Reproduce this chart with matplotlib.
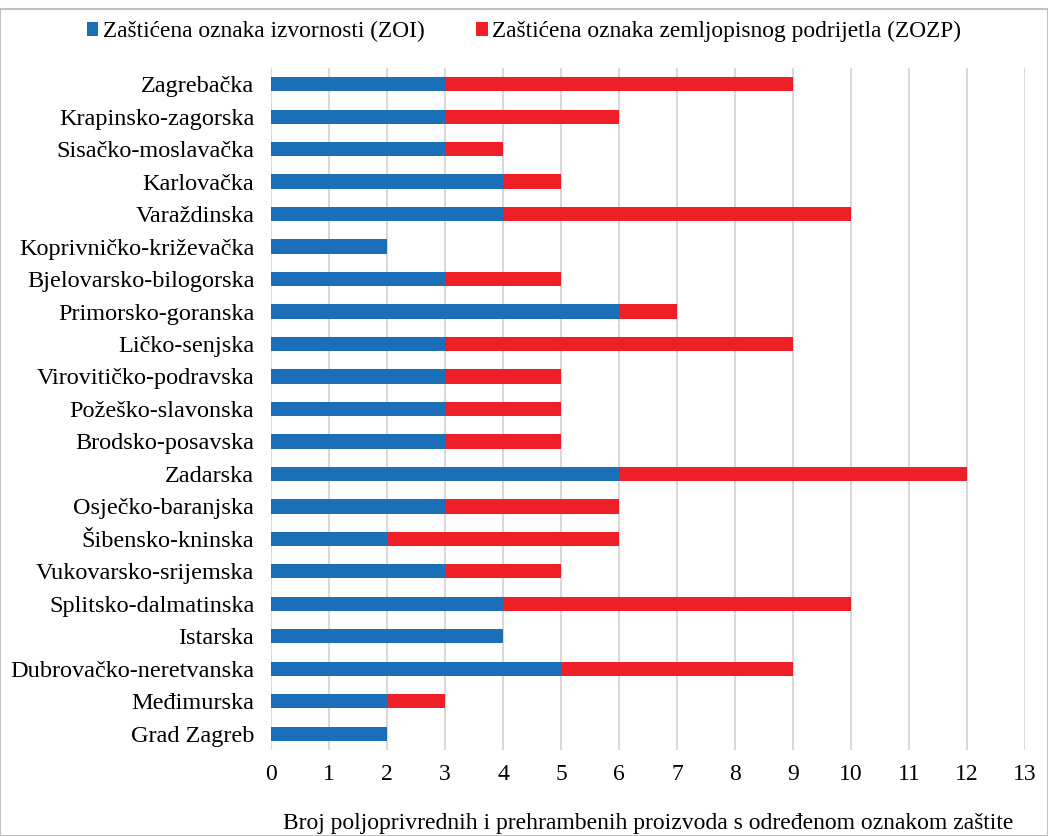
import matplotlib.pyplot as plt
import matplotlib.patches as mpatches

plt.rcParams['font.family'] = ['Liberation Serif', 'DejaVu Serif']

counties = ['Zagrebačka', 'Krapinsko-zagorska', 'Sisačko-moslavačka', 'Karlovačka',
            'Varaždinska', 'Koprivničko-križevačka', 'Bjelovarsko-bilogorska',
            'Primorsko-goranska', 'Ličko-senjska', 'Virovitičko-podravska',
            'Požeško-slavonska', 'Brodsko-posavska', 'Zadarska', 'Osječko-baranjska',
            'Šibensko-kninska', 'Vukovarsko-srijemska', 'Splitsko-dalmatinska',
            'Istarska', 'Dubrovačko-neretvanska', 'Međimurska', 'Grad Zagreb']
zoi = [3, 3, 3, 4, 4, 2, 3, 6, 3, 3, 3, 3, 6, 3, 2, 3, 4, 4, 5, 2, 2]
zozp = [6, 3, 1, 1, 6, 0, 2, 1, 6, 2, 2, 2, 6, 3, 4, 2, 6, 0, 4, 1, 0]

blue = '#1B6EB8'
red = '#EE1F26'

fig = plt.figure(figsize=(10.48, 8.36), dpi=100)
ax = fig.add_axes([0.2586, 0.1029, 0.7195, 0.8158])

y = list(range(len(counties)))
ax.barh(y, zoi, height=0.44, color=blue, label='Zaštićena oznaka izvornosti (ZOI)', zorder=3)
ax.barh(y, zozp, left=zoi, height=0.44, color=red,
        label='Zaštićena oznaka zemljopisnog podrijetla (ZOZP)', zorder=3)

ax.set_ylim(len(counties) - 0.5, -0.5)
ax.set_xlim(0, 13)
ax.set_xticks(range(0, 14))
ax.set_yticks(y)
ax.set_yticklabels(counties, fontsize=17.5)
ax.tick_params(axis='x', labelsize=17, length=0, pad=10)
ax.tick_params(axis='y', length=0, pad=12)
ax.grid(axis='x', color='#D9D9D9', linewidth=1.5, zorder=0)
for s in ax.spines.values():
    s.set_visible(False)

ax.set_xlabel('Broj poljoprivrednih i prehrambenih proizvoda s određenom oznakom zaštite',
              fontsize=17, labelpad=20)

fig.legend(loc='upper center', bbox_to_anchor=(0.5, 1.0), ncol=2, frameon=False,
           fontsize=16.8, handlelength=0.5, handleheight=0.55, handletextpad=0.2,
           columnspacing=2.2)

fig.patches.append(mpatches.Rectangle((0, 0), 1, 0.989, transform=fig.transFigure,
                                      fill=False, edgecolor='#BFBFBF', linewidth=1.5))

plt.savefig('out.png')
